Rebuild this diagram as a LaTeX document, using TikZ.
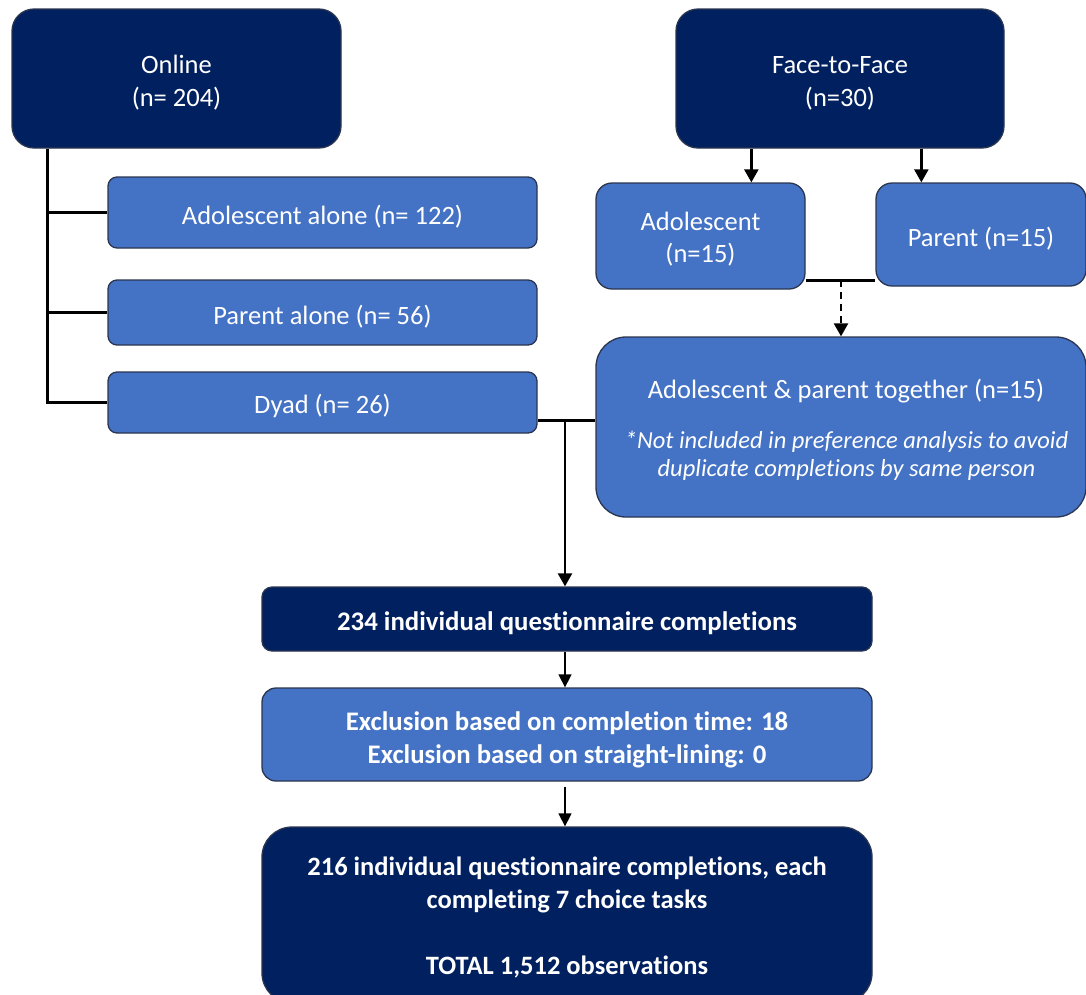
\documentclass[tikz,border=0pt]{standalone}
\usepackage{fontspec}
\setmainfont{Carlito}[RawFeature={-liga;-clig;-calt;-dlig}]
\usetikzlibrary{arrows.meta}
\definecolor{navy}{HTML}{002060}
\definecolor{midblue}{HTML}{4472C4}
\definecolor{edgecol}{HTML}{2A3550}
\newcommand{\tup}[1]{\rule{0pt}{#1pt}}
\tikzset{
  box/.style={draw=edgecol, line width=1.3pt, text=white, align=center, inner sep=0pt,
    font=\fontsize{26.5}{32.5}\selectfont, execute at begin node={\rule{0pt}{27pt}}},
  darkbox/.style={box, fill=navy},
  midbox/.style={box, fill=midblue},
  txt/.style={text=white, align=center, inner sep=0pt},
  tree/.style={line width=2.4pt, black},
  arr/.style={line width=2.4pt, black, -{Triangle[length=13pt,width=14pt]}},
  thinarr/.style={line width=1.4pt, black, -{Triangle[length=13pt,width=13pt]}},
}
\begin{document}
\begin{tikzpicture}[x=1pt,y=-1pt]
\useasboundingbox (0,0) rectangle (1086,994);
% left column
\node[darkbox, rounded corners=22pt, minimum width=329pt, minimum height=139pt] (online) at (176.5,78.5) {\tup{27}Online\\(n= 204)};
\node[midbox, rounded corners=9pt, minimum width=429pt, minimum height=71pt] (adolA) at (322.5,212.5) {Adolescent alone (n= 122)};
\node[midbox, rounded corners=9pt, minimum width=429pt, minimum height=65pt] (parA) at (322.5,312.5) {Parent alone (n= 56)};
\node[midbox, rounded corners=9pt, minimum width=429pt, minimum height=61pt] (dyad) at (322.5,402.5) {Dyad (n= 26)};
% right column
\node[darkbox, rounded corners=22pt, minimum width=328pt, minimum height=139pt] (f2f) at (840,78.5) {\tup{27}Face-to-Face\\(n=30)};
\node[midbox, rounded corners=16pt, minimum width=209pt, minimum height=106pt] (adol15) at (700.5,236) {\tup{25}Adolescent\\(n=15)};
\node[midbox, rounded corners=16pt, minimum width=210pt, minimum height=103pt] (par15) at (981,234.5) {Parent (n=15)};
\node[midbox, rounded corners=30pt, minimum width=490pt, minimum height=180pt] (tog) at (841,427) {};
\node[txt, font=\fontsize{26.5}{32.5}\selectfont] (togt) at (846,391) {Adolescent \& parent together (n=15)};
\node[txt, font=\fontsize{24.5}{28.5}\selectfont\itshape] (togn) at (846.5,456) {*Not included in preference analysis to avoid\\duplicate completions by same person};
% bottom column
\node[darkbox, rounded corners=10pt, minimum width=610pt, minimum height=64pt, font=\fontsize{26.8}{33}\selectfont\bfseries] (q234) at (567,619) {234 individual questionnaire completions};
\node[midbox, rounded corners=14pt, minimum width=610pt, minimum height=93pt, font=\fontsize{26.8}{33.5}\selectfont\bfseries] (excl) at (567,734.5) {\tup{30}Exclusion based on completion time: 18\\Exclusion based on straight-lining: 0};
\node[darkbox, rounded corners=30pt, minimum width=610pt, minimum height=176pt, font=\fontsize{26.5}{33}\selectfont\bfseries, execute at begin node={}] (final) at (567,915) {\tup{24}216 individual questionnaire completions, each\\completing 7 choice tasks\\[33pt]TOTAL 1,512 observations};
% online tree
\coordinate (ot) at ([xshift=36pt]online.south west);
\draw[tree] (ot) |- (adolA.west);
\draw[tree] (ot) |- (parA.west);
\draw[tree] (ot) |- (dyad.west);
% face-to-face arrows
\draw[arr] ([xshift=76pt]f2f.south west) -- ([xshift=76pt]f2f.south west |- adol15.north);
\draw[arr] ([xshift=246pt]f2f.south west) -- ([xshift=246pt]f2f.south west |- par15.north);
% join to together
\coordinate (ja) at ([yshift=9pt]adol15.south east);
\draw[tree] (ja) -- (ja -| par15.west);
\coordinate (jd) at (841,280);
\draw[arr, dashed, dash pattern=on 7pt off 5pt] (jd) -- (tog.north);
% dyad to together and down
\coordinate (dy) at ([yshift=13pt]dyad.south east);
\draw[tree] (dy) -- (dy -| tog.west);
\coordinate (jv) at (565,420);
\draw[arr] (jv) -- (jv |- q234.north);
% bottom arrows
\draw[thinarr] (q234.south -| jv) -- (excl.north -| jv);
\draw[thinarr] ([yshift=-5pt]excl.south -| jv) -- (final.north -| jv);
\end{tikzpicture}
\end{document}
